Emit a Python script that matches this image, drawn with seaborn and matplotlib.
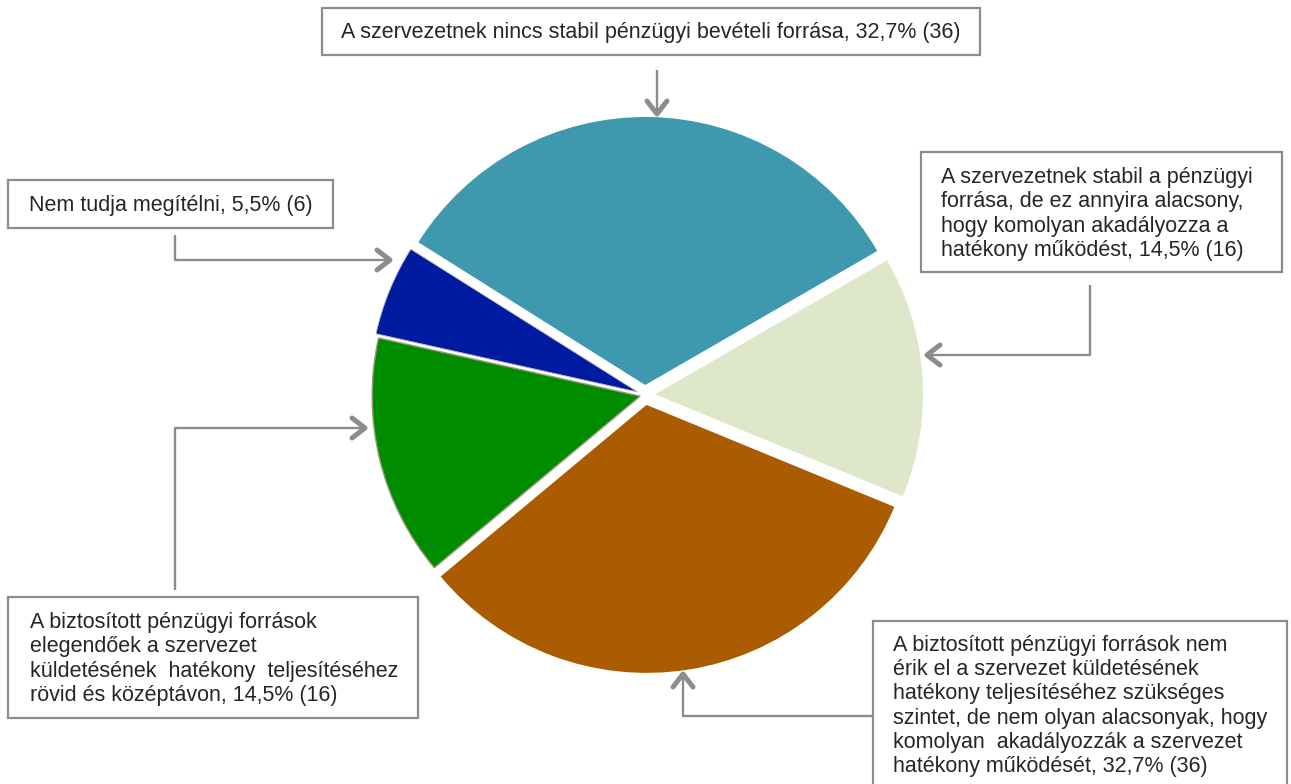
import numpy as np
import seaborn as sns
import matplotlib.pyplot as plt
from matplotlib.patches import Rectangle

# data (counterclockwise from the top slice)
labels = [
    "A szervezetnek nincs stabil pénzügyi bevételi forrása, 32,7% (36)",
    "Nem tudja megítélni, 5,5% (6)",
    "A biztosított pénzügyi források\nelegendőek a szervezet\nküldetésének  hatékony  teljesítéséhez\nrövid és középtávon, 14,5% (16)",
    "A biztosított pénzügyi források nem\nérik el a szervezet küldetésének\nhatékony teljesítéséhez szükséges\nszintet, de nem olyan alacsonyak, hogy\nkomolyan  akadályozzák a szervezet\nhatékony működését, 32,7% (36)",
    "A szervezetnek stabil a pénzügyi\nforrása, de ez annyira alacsony,\nhogy komolyan akadályozza a\nhatékony működést, 14,5% (16)",
]
counts = [36, 6, 16, 36, 16]
colors = ["#3E98AE", "#001AA0", "#008C00", "#AB5B00", "#DFE7CB"]
explode = [10, 8, 5, 10, 10]  # pie offsets, in axis units (pixels here)

sns.set_theme(style="white")
plt.rcParams['font.family'] = ['Liberation Sans', 'DejaVu Sans']

W, H = 1291, 784
fig = plt.figure(figsize=(W / 100, H / 100), dpi=100)
ax = fig.add_axes([0, 0, 1, 1])


def py(y):
    return H - y


wedges, _ = ax.pie(counts, colors=sns.color_palette(colors), explode=explode,
                   startangle=30, counterclock=True, radius=268,
                   center=(645, py(395)), frame=True,
                   wedgeprops=dict(linewidth=0))
wedges[1].set_edgecolor('#b8b8c8')
wedges[1].set_linewidth(0.6)
wedges[2].set_edgecolor('#9a9a7a')
wedges[2].set_linewidth(1.0)
ax.set_xlim(0, W)
ax.set_ylim(0, H)
ax.set_aspect('equal')
ax.axis('off')

gray = '#8c8c8c'
fs = 15.5
ls = 1.2


def box(x0, y0, x1, y1):
    ax.add_patch(Rectangle((x0, py(y1)), x1 - x0, y1 - y0, fill=True,
                           facecolor='white', edgecolor=gray, lw=1.6, zorder=3))


def connector(points):
    xs = [p[0] for p in points]
    ys = [py(p[1]) for p in points]
    ax.plot(xs, ys, color=gray, lw=1.7, solid_capstyle='butt', zorder=3)
    # open chevron head at the end
    tip = np.array([xs[-1], ys[-1]], dtype=float)
    prev = np.array([xs[-2], ys[-2]], dtype=float)
    d = (tip - prev) / np.linalg.norm(tip - prev)
    n = np.array([-d[1], d[0]])
    L, w = 13, 10
    a = tip - d * L + n * w
    b = tip - d * L - n * w
    ax.plot([a[0], tip[0], b[0]], [a[1], tip[1], b[1]], color=gray, lw=3.6,
            solid_capstyle='round', solid_joinstyle='round', zorder=3)


# top label
box(322, 8, 980, 55)
ax.text(651, py(32), labels[0], fontsize=fs, ha='center', va='center', zorder=4)
connector([(657, 70), (657, 114)])

# Nem tudja
box(8, 180, 333, 228)
ax.text(171, py(205), labels[1], fontsize=fs, ha='center', va='center', zorder=4)
connector([(175, 235), (175, 260), (390, 260)])

# left bottom
box(8, 597, 418, 718)
ax.text(30, py(659), labels[2], fontsize=fs, ha='left', va='center',
        linespacing=ls, zorder=4)
connector([(175, 590), (175, 428), (365, 428)])

# bottom right
box(873, 621, 1287, 790)
ax.text(893, py(706), labels[3], fontsize=fs, ha='left', va='center',
        linespacing=ls, zorder=4)
connector([(873, 716), (683, 716), (683, 674)])

# right
box(921, 152, 1282, 272)
ax.text(941, py(214), labels[4], fontsize=fs, ha='left', va='center',
        linespacing=ls, zorder=4)
connector([(1090, 285), (1090, 355), (927, 355)])

fig.savefig('out.png', dpi=100)
